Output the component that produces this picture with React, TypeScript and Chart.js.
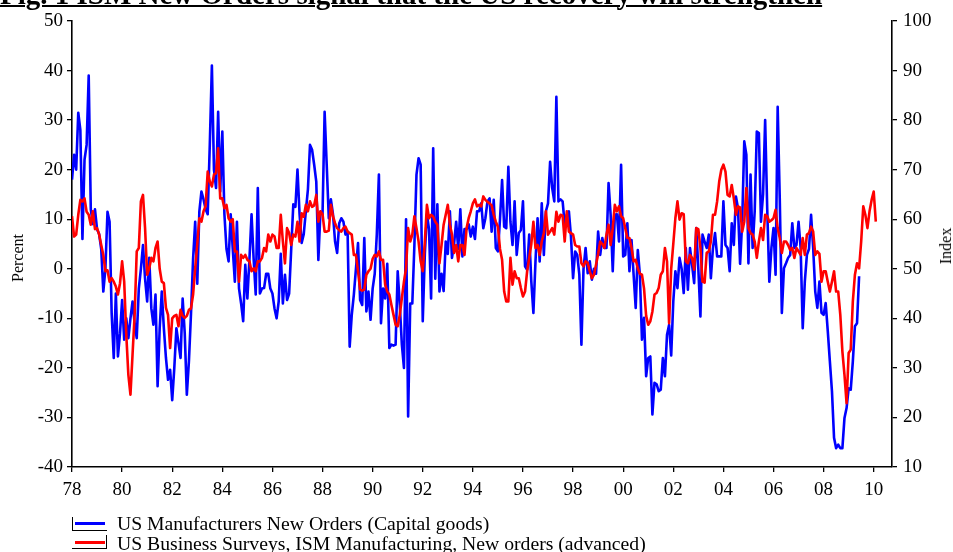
import { useEffect, useRef } from "react";
import { Chart, registerables } from "chart.js";

Chart.register(...registerables);

const START_YEAR = 1978;
const X_MAX = 2010.73;
const X_TICKS = [1978, 1980, 1982, 1984, 1986, 1988, 1990, 1992, 1994, 1996, 1998, 2000, 2002, 2004, 2006, 2008, 2010];
const LEFT_MIN = -40;
const LEFT_MAX = 50;
const RIGHT_MIN = 10;
const RIGHT_MAX = 100;

const TITLE = "Fig. 1 ISM New Orders signal that the US recovery will strengthen";
const BLUE_LABEL = "US Manufacturers New Orders (Capital goods)";
const RED_LABEL = "US Business Surveys, ISM Manufacturing, New orders (advanced)";

// Monthly, percent (left axis), from Jan 1978
const blueValues = [
  18, 23, 20, 31.5, 28, 6, 22, 25, 39, 12, 9, 12,
  8, 7, 4, -4.6, 0, 11.5, 9.5, -9, -18, -5, -17.7, -13,
  -6.3, -14.3, -10, -14, -10, -6.6, -11, -14, -4, 0, 4.8, -2,
  -6.6, 2.2, -8, -11.3, -5.2, -23.7, -12, -4.6, -12, -18, -22.4, -20.4,
  -26.5, -20, -12, -15, -18, -6, -13, -25.4, -18.7, -9, 2, 9.5,
  -3, 11.6, 15.6, 14, 12, 11, 25, 41, 20, 16.3, 31.7, 15.6,
  27.7, 11, 4, 1.5, 11, 4, -2.6, 9.5, -4, -7, -10.6, 0.8,
  -6, 2, 11, 2, -5.2, 16.3, -5, -4, -3.9, -1, -1, -4,
  -5, -8, -10, -6.6, 3, -7, -1.2, -6.3, -5, 4, 13, 12.5,
  20, 11, 5.2, 7, 11.6, 16, 25, 24, 21, 17.6, 1.8, 11.5,
  11, 31.7, 21, 10.2, 14, 11, 5.5, 3.2, 9.2, 10.2, 9.5, 6.9,
  7.5, -15.7, -9.3, -5.2, 0, 5.2, -6.3, -7.3, 6.2, -8.6, -4.6, -10.3,
  -4, -1, 7, 19, -11, -4, -6, 1, -16, -15.3, -15.5, -15.3,
  -0.5, -7.3, -15.3, -20, 10, -29.8, -7, -7, 4.8, 19, 22.3, 21,
  -10.6, 3, 11, 8, -6, 24.3, -2, 13, -4.6, -1, -4.5, 5.5,
  3, 11.6, 2.2, 5, 9.5, 4, 12, 2.5, 8, 8, 9, 6.5,
  8.5, 6, 11.6, 11.6, 13.2, 8.2, 10.2, 13.6, 14.2, 7.5, 13.9, 4.2,
  3.5, 10, 17.9, 8.5, 8.2, 20.6, 9.5, 4.8, 13.6, 2.8, 7.2, 7.8,
  13.6, 0.5, -0.2, 6.9, -2.6, -8.9, 1.5, 10.2, 1.5, 13.2, 2.8, 11.6,
  13.2, 21.6, 16.3, 13.6, 34.7, 13.6, 14, 13.6, 8.9, 10.9, 11.6, 6.5,
  -1.9, 3.5, 2.8, -1.2, -15.3, 0, 4.2, -0.9, 1.5, -2.2, 0, -1,
  7.5, 2.8, 6.2, 4.2, 4.2, 17.3, 10.9, -0.5, 10.9, 11, 5.5, 21,
  2.5, 2.8, 9.2, -0.5, 5.8, -1.2, -7.9, 3.8, -1.2, -14.3, -9.9, -21.7,
  -18, -17.7, -29.4, -23, -23.3, -24.7, -24.4, -18, -21.7, -13.3, -11.3, -17.5,
  -6.6, -0.5, -3.9, 2.2, 0, -4.9, 4.2, -4.2, 4.2, 0.8, -2.9, 8.2,
  0, -9.6, 6.9, 5.5, 4.2, 6.9, -1.9, 4.2, 7.2, 2.5, 2.5, 2.5,
  13.6, 4.8, 4.2, -0.5, 9.2, 4.8, 14.6, 12.2, 1, 9.5, 25.7, 23,
  1.1, 19, 4.2, 11.6, 27.7, 27.4, 9.5, 15, 30, 12, -2.6, 4.2,
  8.2, -1.2, 32.7, 14.2, -8.9, 0.1, 1.1, 2.2, 2.8, 9.2, 4.2, 4.8,
  9.5, 4.2, -12, -2.6, 2.8, 4, 10.9, 4.2, -4.6, -7.9, -2.6, -8.9,
  -9.3, -6.9, -12.6, -18.7, -24.7, -34.1, -36.2, -35.5, -36.2, -36.2, -30.1, -28.1,
  -24.1, -24.4, -18.7, -11.6, -11, -1.5,
];

// Monthly, index (right axis), from Jan 1978
const redValues = [
  60.6, 56.5, 56.9, 60.9, 63.9, 63.6, 64.2, 61.5, 60.9, 58.9, 61.6, 58,
  58.2, 56.9, 54.8, 52.8, 49.5, 49.7, 47.4, 48.1, 47.4, 46.4, 44.8, 47.1,
  51.5, 47.4, 36.7, 28.6, 24.6, 32.7, 40.7, 53.5, 54.2, 63.6, 64.9, 58.2,
  48.8, 50.1, 52.2, 51.5, 54.2, 55.5, 50, 47.4, 47.1, 42.1, 40.7, 34,
  40, 40.5, 40.7, 38.4, 41.7, 40.5, 40.1, 40.5, 41.7, 42, 44.8, 50.1,
  55, 60.2, 59.5, 61.6, 62.6, 69.6, 67.6, 66.6, 69, 69.3, 74.3, 64.2,
  64.2, 62.2, 62.9, 60.2, 59.5, 60, 53.5, 53.5, 47.4, 52.8, 52.2, 52.8,
  51.8, 51.5, 49.5, 50.1, 49.5, 51.5, 51.5, 52.2, 54.2, 53.5, 56.9, 55.5,
  56.9, 56.5, 54.2, 54.2, 60.9, 55.5, 51.1, 58.2, 57.2, 54.8, 56.9, 56.5,
  59.5, 55.5, 61.2, 60.5, 62.9, 61.6, 63.6, 62.5, 62.8, 64.9, 59.5, 61.6,
  61, 57.5, 57.5, 57.7, 62.9, 60.6, 59.2, 58.2, 57.8, 57.5, 58.2, 58.5,
  57.5, 57.2, 56.9, 52.8, 52.8, 49.5, 45.8, 45.6, 45.8, 48.8, 49.5, 50,
  52, 52.8, 52.5, 53.5, 51.8, 51.8, 46.8, 45.4, 44.8, 42.7, 40.7, 38.7,
  38.4, 40.7, 44.1, 47.4, 50.1, 58.2, 55.5, 56.9, 60.6, 58.2, 55.5, 51.5,
  49.5, 55.5, 62.9, 60.2, 60.9, 60.5, 59.5, 58.9, 51.1, 54.8, 58.9, 60.9,
  62.9, 58.9, 56.9, 53.2, 54.8, 51.5, 54.8, 54.8, 52.8, 58.2, 60.2, 61.6,
  63.2, 64, 62.6, 62.9, 62.6, 64.6, 63.9, 63.5, 63.2, 62.8, 60.9, 59.5,
  58.5, 54, 51.8, 45.4, 43.4, 43.4, 52.2, 46.8, 49.5, 48.1, 48.1, 46.1,
  44.4, 45.4, 49.5, 52.2, 55, 59.5, 54.2, 54.8, 52.8, 55.5, 57.2, 61.6,
  56.9, 57.5, 58.2, 56.9, 61.5, 59.5, 60.9, 60.7, 55.5, 61.6, 57.5, 57.2,
  56.9, 54.8, 54.5, 54.5, 51.1, 50.5, 51.5, 51.2, 49.5, 48.1, 48.8, 50.8,
  53, 55.5, 55, 54.2, 56.9, 58.9, 54.8, 58.2, 62.9, 61.6, 62.6, 60.6,
  60.2, 58.2, 56.2, 56.2, 54.2, 51.5, 51.8, 50.1, 49, 48.8, 46, 40.5,
  38.7, 39.4, 41.4, 44.8, 45.1, 46.1, 48.8, 49.5, 54.2, 51.5, 39, 50,
  55, 60.2, 63.6, 59.9, 61.2, 61, 51.5, 51.1, 52.8, 52.2, 49.8, 58.2,
  58, 54.2, 47.4, 47.2, 53.2, 53.5, 55.5, 60.9, 60.9, 63.6, 67.6, 70,
  71, 69.6, 64.9, 64.6, 66.9, 64.2, 60.9, 62.6, 62.4, 57.5, 59.5, 66.3,
  58.2, 57.2, 56.9, 55.5, 52.2, 55.5, 58.2, 55.8, 60.9, 60.6, 59.5, 59.8,
  60.2, 61.9, 58.2, 56.2, 53.2, 55.5, 55.5, 54.8, 53.8, 54.2, 52.2, 54.2,
  53.5, 52.8, 56.2, 52.8, 56.9, 57.2, 58.5, 57.5, 52.8, 53.5, 53, 47.4,
  49.5, 49.5, 47.4, 45.4, 47.4, 49.5, 45.4, 45.4, 40.7, 33.3, 28.6, 22.9,
  33, 33.7, 43.4, 48.8, 51.1, 50.1, 55.5, 62.6, 60.9, 58.2, 61.6, 63.9, 65.6, 59.5,
];

const SERIF = "'Liberation Serif', 'Times New Roman', serif";

export default function App() {
  const ref = useRef<HTMLCanvasElement>(null);

  useEffect(() => {
    document.body.style.margin = "0";
    const canvas = ref.current;
    if (!canvas) return;
    const tickFont = { family: SERIF, size: 19 };
    const chart = new Chart(canvas, {
      type: "line",
      data: {
        datasets: [
          {
            label: RED_LABEL,
            data: redValues.map((v, i) => ({ x: START_YEAR + i / 12, y: v })),
            yAxisID: "yRight",
            borderColor: "#ff0000",
            borderWidth: 2.6,
            pointRadius: 0,
            tension: 0,
            borderJoinStyle: "round",
            order: 0,
          },
          {
            label: BLUE_LABEL,
            data: blueValues.map((v, i) => ({ x: START_YEAR + i / 12, y: v })),
            yAxisID: "yLeft",
            borderColor: "#0000ff",
            borderWidth: 2.6,
            pointRadius: 0,
            tension: 0,
            borderJoinStyle: "round",
            order: 1,
          },
        ],
      },
      options: {
        responsive: false,
        animation: false,
        devicePixelRatio: 1,
        layout: { padding: { top: 21, bottom: 55, left: 0, right: 0 } },
        plugins: { legend: { display: false }, tooltip: { enabled: false } },
        scales: {
          x: {
            type: "linear",
            min: START_YEAR,
            max: X_MAX,
            afterBuildTicks: (s: any) => {
              s.ticks = X_TICKS.map((v) => ({ value: v }));
            },
            afterFit: (s: any) => {
              s.height = 30;
            },
            ticks: {
              autoSkip: false,
              maxRotation: 0,
              color: "#000",
              font: tickFont,
              padding: 7,
              callback: (v: any) => String(Math.round(v) % 100).padStart(2, "0"),
            },
            grid: { drawOnChartArea: false, drawTicks: true, tickLength: 5, color: "#000", lineWidth: 1.3 },
            border: { display: true, color: "#000", width: 1.6 },
          },
          yLeft: {
            type: "linear",
            position: "left",
            min: LEFT_MIN,
            max: LEFT_MAX,
            afterFit: (s: any) => {
              s.width = 72;
            },
            ticks: { stepSize: 10, color: "#000", font: tickFont, padding: 4 },
            grid: { drawOnChartArea: false, drawTicks: true, tickLength: 5, color: "#000", lineWidth: 1.3 },
            border: { display: true, color: "#000", width: 1.6 },
          },
          yRight: {
            type: "linear",
            position: "right",
            min: RIGHT_MIN,
            max: RIGHT_MAX,
            afterFit: (s: any) => {
              s.width = 61;
            },
            ticks: { stepSize: 10, color: "#000", font: tickFont, padding: 6 },
            grid: { drawOnChartArea: false, drawTicks: true, tickLength: 5, color: "#000", lineWidth: 1.3 },
            border: { display: true, color: "#000", width: 1.6 },
          },
        },
      },
    });
    return () => chart.destroy();
  }, []);

  const text = (style: any) => ({ position: "absolute" as const, fontFamily: SERIF, color: "#000", whiteSpace: "nowrap" as const, ...style });

  return (
    <div style={{ position: "relative", width: 953, height: 552, overflow: "hidden", background: "#fff" }}>
      <canvas ref={ref} width={953} height={552} style={{ display: "block", width: 953, height: 552 }} />
      <div style={text({ left: 0, top: -20, fontSize: 29, lineHeight: "29px", fontWeight: "bold", textDecoration: "underline", textDecorationThickness: "2px" })}>{TITLE}</div>
      <div style={text({ left: 18, top: 258, fontSize: 16, lineHeight: "16px", transform: "translate(-50%, -50%) rotate(-90deg)" })}>Percent</div>
      <div style={text({ left: 946, top: 246, fontSize: 16, lineHeight: "16px", transform: "translate(-50%, -50%) rotate(-90deg)" })}>Index</div>
      {/* legend swatches */}
      <div style={{ position: "absolute", left: 72, top: 517, width: 1.3, height: 14, background: "#000" }} />
      <div style={{ position: "absolute", left: 72, top: 530, width: 35, height: 1.3, background: "#000" }} />
      <div style={{ position: "absolute", left: 75, top: 522, width: 30, height: 2.6, background: "#0000ff" }} />
      <div style={{ position: "absolute", left: 106, top: 535, width: 1.3, height: 14, background: "#000" }} />
      <div style={{ position: "absolute", left: 72, top: 548, width: 35, height: 1.3, background: "#000" }} />
      <div style={{ position: "absolute", left: 75, top: 541, width: 30, height: 2.6, background: "#ff0000" }} />
      <div style={text({ left: 117, top: 513, fontSize: 19.7, lineHeight: "20px" })}>{BLUE_LABEL}</div>
      <div style={text({ left: 117, top: 533, fontSize: 19.7, lineHeight: "20px" })}>{RED_LABEL}</div>
    </div>
  );
}
